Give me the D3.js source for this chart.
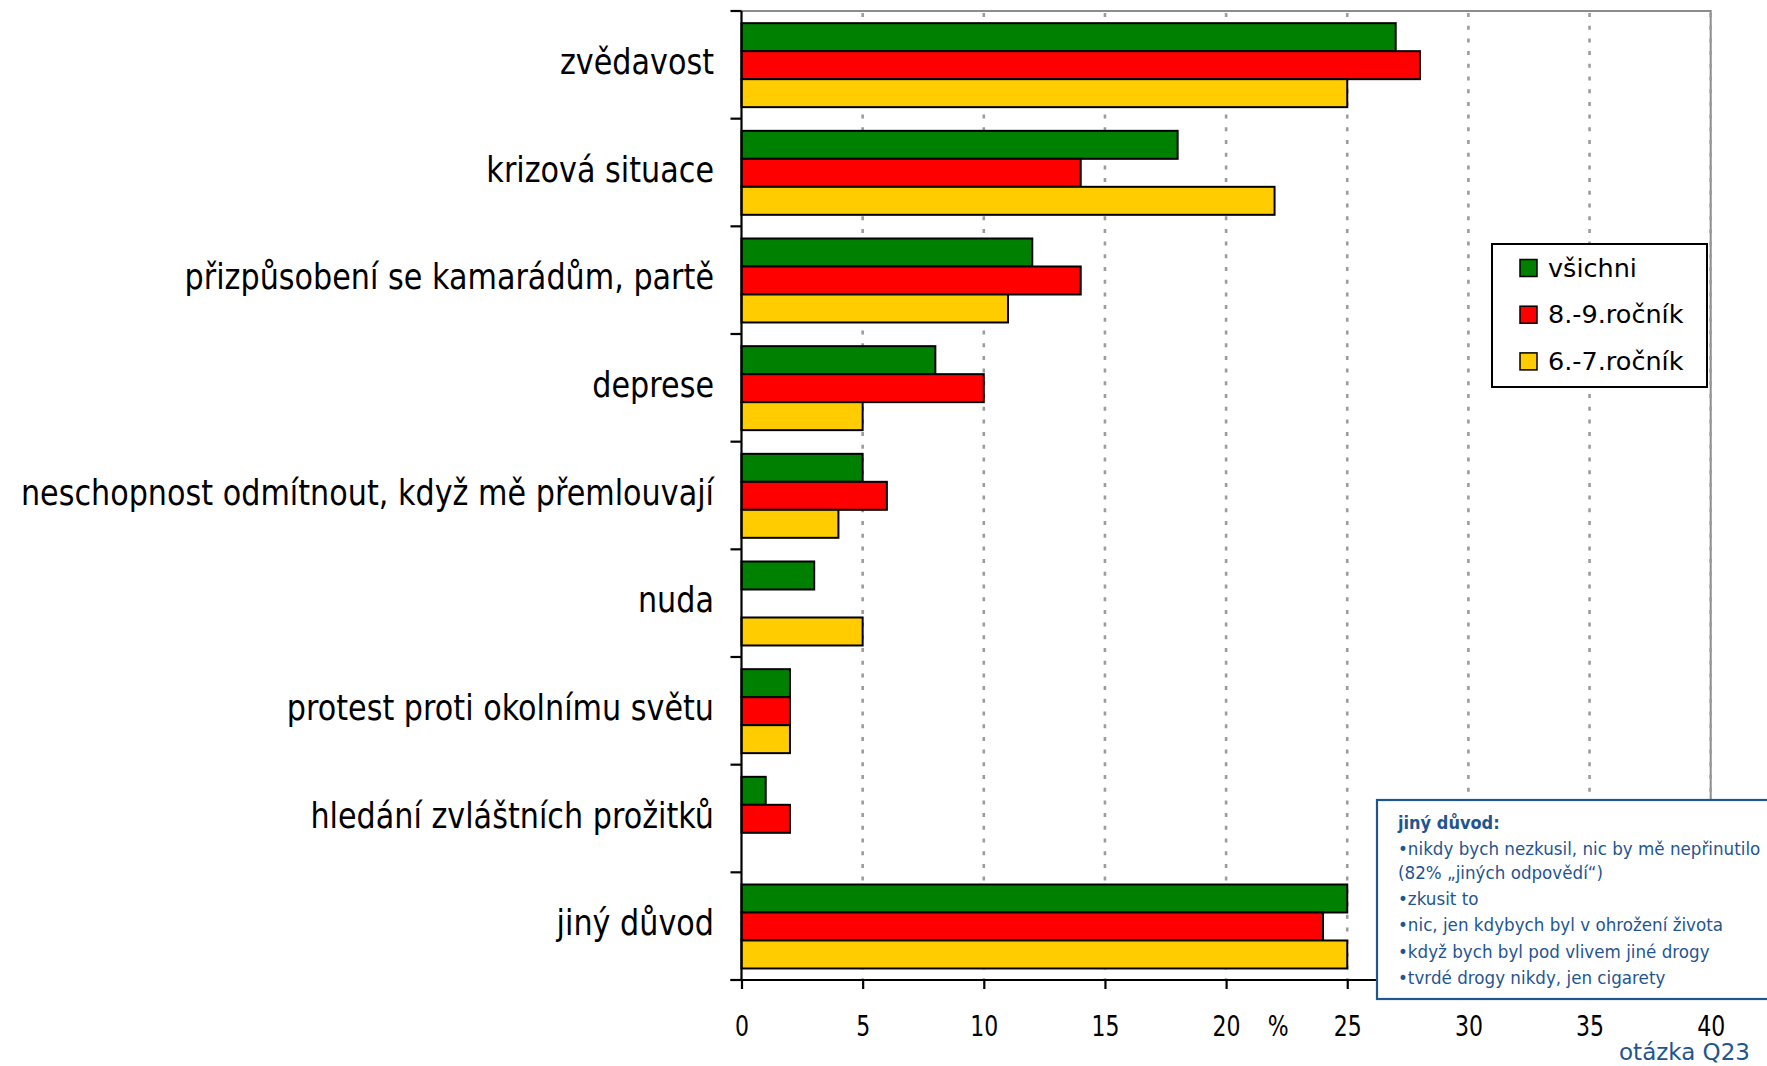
<!DOCTYPE html>
<html>
<head>
<meta charset="utf-8">
<script src="https://cdn.jsdelivr.net/npm/d3@7"></script>
<style>
  html, body { margin: 0; padding: 0; background: #fff; }
  svg { display: block; font-family: "DejaVu Sans", Verdana, sans-serif; }
</style>
</head>
<body>
<svg id="chart" width="1767" height="1066"></svg>
<script>
// Reasons given for trying drugs (question Q23), percent of respondents
const categories = [
  "zvědavost",
  "krizová situace",
  "přizpůsobení se kamarádům, partě",
  "deprese",
  "neschopnost odmítnout, když mě přemlouvají",
  "nuda",
  "protest proti okolnímu světu",
  "hledání zvláštních prožitků",
  "jiný důvod"
];
const seriesNames = ["všichni", "8.-9.ročník", "6.-7.ročník"];
const seriesColors = ["#008000", "#ff0000", "#ffcc00"];
const vsichni = [27, 18, 12, 8, 5, 3, 2, 1, 25];
const rocnik89 = [28, 14, 14, 10, 6, 0, 2, 2, 24];
const rocnik67 = [25, 22, 11, 5, 4, 5, 2, 0, 25];
const xTicks = [0, 5, 10, 15, 20, 25, 30, 35, 40];
const noteTitle = "jiný důvod:";
const noteLines = [
  "•nikdy bych nezkusil, nic by mě nepřinutilo",
  "(82% „jiných odpovědí“)",
  "•zkusit to",
  "•nic, jen kdybych byl v ohrožení života",
  "•když bych byl pod vlivem jiné drogy",
  "•tvrdé drogy nikdy, jen cigarety"
];
const unitLabel = "%";
const sourceLabel = "otázka Q23";

const seriesValues = [vsichni, rocnik89, rocnik67];

const svg = d3.select("#chart");
const plotLeft = 741.5, plotRight = 1710.7, plotTop = 11, plotBottom = 980;

const x = d3.scaleLinear().domain([0, 40]).range([plotLeft, plotRight]);
const y = d3.scaleBand().domain(categories).range([plotTop, plotBottom]);
const bw = y.bandwidth();
const ySub = d3.scaleBand().domain(seriesNames).range([bw * 0.113, bw * 0.893]);

// plot frame (top and right edges)
svg.append("path")
  .attr("d", `M${plotLeft},${plotTop}H${plotRight}V${plotBottom}`)
  .attr("fill", "none").attr("stroke", "#8c8c8c").attr("stroke-width", 2);

// dashed vertical gridlines
svg.append("g").selectAll("line")
  .data(xTicks.filter(t => t > 0))
  .join("line")
  .attr("x1", d => x(d)).attr("x2", d => x(d))
  .attr("y1", plotTop + 2).attr("y2", plotBottom)
  .attr("stroke", "#9c9c9c").attr("stroke-width", 2.6)
  .attr("stroke-dasharray", "4,8.7");

// bars
const rows = [];
categories.forEach((c, i) => {
  seriesNames.forEach((s, j) => {
    const v = seriesValues[j][i];
    if (v > 0) rows.push({ c, s, v, color: seriesColors[j] });
  });
});
svg.append("g").selectAll("rect")
  .data(rows)
  .join("rect")
  .attr("x", x(0))
  .attr("y", d => y(d.c) + ySub(d.s))
  .attr("width", d => x(d.v) - x(0))
  .attr("height", ySub.bandwidth())
  .attr("fill", d => d.color)
  .attr("stroke", "#000").attr("stroke-width", 2);

// category axis: line with ticks at band boundaries
const bounds = categories.map(c => y(c)).concat([plotBottom]);
svg.append("line")
  .attr("x1", plotLeft).attr("x2", plotLeft).attr("y1", plotTop).attr("y2", plotBottom)
  .attr("stroke", "#000").attr("stroke-width", 2.2);
svg.append("g").selectAll("line")
  .data(bounds)
  .join("line")
  .attr("x1", plotLeft - 11).attr("x2", plotLeft)
  .attr("y1", d => d).attr("y2", d => d)
  .attr("stroke", "#000").attr("stroke-width", 2.2);

// category labels
const catSx = 0.84;
svg.append("g").selectAll("text")
  .data(categories)
  .join("text")
  .attr("transform", d => `translate(714,${y(d) + bw / 2 + 9}) scale(${catSx},1)`)
  .attr("text-anchor", "end")
  .attr("font-size", 36)
  .attr("fill", "#000")
  .text(d => d);

// value axis
const xAxis = d3.axisBottom(x).tickValues(xTicks).tickSize(9).tickSizeOuter(0).tickPadding(27);
const gx = svg.append("g").attr("transform", `translate(0,${plotBottom})`).call(xAxis);
gx.select(".domain").remove();
gx.selectAll(".tick line").attr("stroke", "#000").attr("stroke-width", 2.2);
gx.selectAll(".tick text")
  .attr("font-size", 27.5)
  .attr("font-family", "DejaVu Sans, sans-serif")
  .attr("fill", "#000")
  .attr("transform", "scale(0.8,1)");
svg.append("line")
  .attr("x1", plotLeft - 11).attr("x2", plotRight).attr("y1", plotBottom).attr("y2", plotBottom)
  .attr("stroke", "#000").attr("stroke-width", 2.2);

// unit label sits between the 20 and 25 ticks
svg.append("text")
  .attr("transform", `translate(${x(20) + 0.43 * (x(25) - x(20))},1036) scale(0.8,1)`)
  .attr("text-anchor", "middle")
  .attr("font-size", 27.5)
  .text(unitLabel);

// legend
const lg = svg.append("g");
lg.append("rect")
  .attr("x", 1492).attr("y", 244).attr("width", 215).attr("height", 143)
  .attr("fill", "#fff").attr("stroke", "#000").attr("stroke-width", 2);
const li = lg.selectAll("g.item")
  .data(seriesNames)
  .join("g")
  .attr("class", "item")
  .attr("transform", (d, i) => `translate(1520,${268 + i * 46.7})`);
li.append("rect")
  .attr("x", 0).attr("y", -8.5).attr("width", 17).attr("height", 17)
  .attr("fill", (d, i) => seriesColors[i])
  .attr("stroke", "#000").attr("stroke-width", 1.5);
li.append("text")
  .attr("x", 28).attr("y", 8.5)
  .attr("font-size", 25.5)
  .attr("fill", "#000")
  .text(d => d);

// note box
const note = svg.append("g");
note.append("rect")
  .attr("x", 1377).attr("y", 800).attr("width", 420).attr("height", 199)
  .attr("fill", "#fff").attr("stroke", "#1f5591").attr("stroke-width", 2.2);
note.append("text")
  .attr("transform", "translate(1398,829) scale(0.9,1)")
  .attr("font-size", 18).attr("font-weight", "bold").attr("fill", "#1f5591")
  .text(noteTitle);
const lineY = [855, 879, 905, 931, 958, 984];
note.selectAll("text.line")
  .data(noteLines)
  .join("text")
  .attr("class", "line")
  .attr("transform", (d, i) => `translate(1398,${lineY[i]}) scale(0.93,1)`)
  .attr("font-size", 18).attr("fill", "#1f5591")
  .text(d => d);

svg.append("text")
  .attr("x", 1750).attr("y", 1060)
  .attr("text-anchor", "end")
  .attr("font-size", 23).attr("fill", "#1f5591")
  .text(sourceLabel);
</script>
</body>
</html>
